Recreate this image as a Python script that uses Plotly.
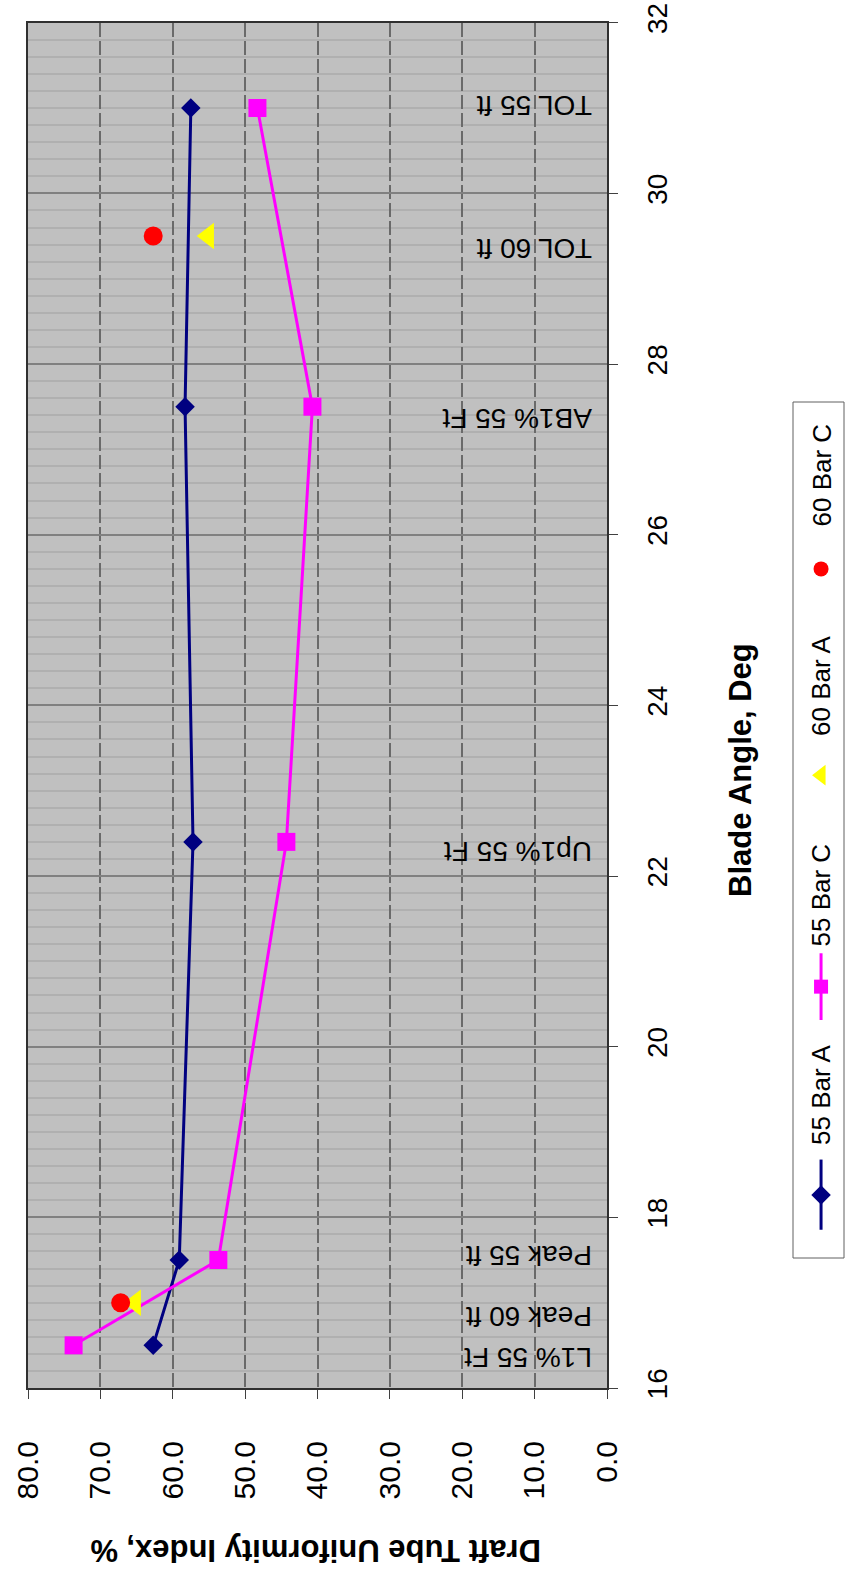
import plotly.graph_objects as go

# ---------------- data ----------------
blade_angle = [16.5, 17.5, 22.4, 27.5, 31.0]
bar55_A = [62.7, 59.1, 57.2, 58.3, 57.5]
bar55_C = [73.7, 53.7, 44.3, 40.7, 48.3]

angle60 = [17.0, 29.5]
bar60_A = [65.2, 55.1]
bar60_C = [67.2, 62.7]

point_labels = ["L1% 55 Ft", "Peak 60 ft", "Peak 55 ft", "Up1% 55 Ft",
                "AB1% 55 Ft", "TOL 60 ft", "TOL 55 ft"]
label_angles = [16.36, 16.84, 17.55, 22.28, 27.36, 29.36, 31.03]

uniformity_ticks = [0, 10, 20, 30, 40, 50, 60, 70, 80]
angle_ticks = [16, 18, 20, 22, 24, 26, 28, 30, 32]

series_names = ["55 Bar A", "55 Bar C", "60 Bar A", "60 Bar C"]

# ---------------- styling ----------------
W, H = 845, 1575
FONT = "Liberation Sans, Arial, sans-serif"
NAVY = "#000080"
MAG = "#FF00FF"
YEL = "#FFFF00"
RED = "#FF0000"

px_left, px_right, px_top, px_bottom = 28, 607, 22.7, 1388

fig = go.Figure()

fig.add_trace(go.Scatter(x=bar55_A, y=blade_angle, mode="lines+markers", name=series_names[0],
                         line=dict(color=NAVY, width=3),
                         marker=dict(symbol="diamond", size=15, color=NAVY)))
fig.add_trace(go.Scatter(x=bar55_C, y=blade_angle, mode="lines+markers", name=series_names[1],
                         line=dict(color=MAG, width=3),
                         marker=dict(symbol="square", size=18, color=MAG)))
fig.add_trace(go.Scatter(x=bar60_A, y=angle60, mode="markers", name=series_names[2],
                         marker=dict(symbol="triangle-left", size=23, color=YEL)))
fig.add_trace(go.Scatter(x=bar60_C, y=angle60, mode="markers", name=series_names[3],
                         marker=dict(symbol="circle", size=19, color=RED)))

# ---------------- legend (rotated, drawn on an overlay axis) ----------------
lg_x0, lg_x1, lg_y0, lg_y1 = 793, 844, 402, 1258
lx = 0.55
fig.add_trace(go.Scatter(x=[lx, lx], y=[0.033, 0.115], mode="lines", xaxis="x2", yaxis="y2",
                         line=dict(color=NAVY, width=3), showlegend=False, hoverinfo="skip"))
fig.add_trace(go.Scatter(x=[lx], y=[0.0736], mode="markers", xaxis="x2", yaxis="y2",
                         marker=dict(symbol="diamond", size=15, color=NAVY), showlegend=False, hoverinfo="skip"))
fig.add_trace(go.Scatter(x=[lx, lx], y=[0.278, 0.356], mode="lines", xaxis="x2", yaxis="y2",
                         line=dict(color=MAG, width=3), showlegend=False, hoverinfo="skip"))
fig.add_trace(go.Scatter(x=[lx], y=[0.317], mode="markers", xaxis="x2", yaxis="y2",
                         marker=dict(symbol="square", size=14, color=MAG), showlegend=False, hoverinfo="skip"))
fig.add_trace(go.Scatter(x=[lx], y=[0.564], mode="markers", xaxis="x2", yaxis="y2",
                         marker=dict(symbol="triangle-left", size=18, color=YEL), showlegend=False, hoverinfo="skip"))
fig.add_trace(go.Scatter(x=[lx], y=[0.805], mode="markers", xaxis="x2", yaxis="y2",
                         marker=dict(symbol="circle", size=15, color=RED), showlegend=False, hoverinfo="skip"))

legend_text_bottom = [1147, 949, 738, 529]
annotations = []
for name, yb in zip(series_names, legend_text_bottom):
    annotations.append(dict(text=name, xref="paper", yref="paper", x=821 / W, y=1 - yb / H,
                            xanchor="center", yanchor="bottom", textangle=-90, showarrow=False,
                            font=dict(family=FONT, size=26, color="black")))

# point labels (upside down)
for txt, ang in zip(point_labels, label_angles):
    annotations.append(dict(text=txt, x=1.8, y=ang, xref="x", yref="y", xanchor="right",
                            yanchor="middle", textangle=180, showarrow=False,
                            font=dict(family=FONT, size=28, color="black")))

# axis titles
annotations.append(dict(text="<b>Blade Angle, Deg</b>", xref="paper", yref="paper",
                        x=740 / W, y=1 - 770 / H, xanchor="center", yanchor="middle",
                        textangle=-90, showarrow=False, font=dict(family=FONT, size=31, color="black")))
annotations.append(dict(text="<b>Draft Tube Uniformity Index, %</b>", xref="paper", yref="paper",
                        x=316 / W, y=1 - 1551 / H, xanchor="center", yanchor="middle",
                        textangle=180, showarrow=False, font=dict(family=FONT, size=31, color="black")))

shapes = [
    # grey plot-area background (below grid)
    dict(type="rect", xref="x domain", yref="y domain", x0=0, x1=1, y0=0, y1=1,
         layer="below", line=dict(width=0), fillcolor="#C0C0C0"),
    # legend frame
    dict(type="rect", xref="paper", yref="paper",
         x0=lg_x0 / W, x1=lg_x1 / W, y0=1 - lg_y1 / H, y1=1 - lg_y0 / H,
         line=dict(color="#606060", width=1), fillcolor="rgba(0,0,0,0)"),
]

fig.update_layout(
    width=W, height=H,
    margin=dict(l=0, r=0, t=0, b=0, autoexpand=False),
    paper_bgcolor="white",
    plot_bgcolor="rgba(0,0,0,0)",
    showlegend=False,
    font=dict(family=FONT, color="black"),
    annotations=annotations,
    shapes=shapes,
    xaxis=dict(
        domain=[px_left / W, px_right / W], range=[80, 0], automargin=False,
        tickvals=uniformity_ticks, tickformat=".1f", tickangle=-90,
        tickfont=dict(family=FONT, size=30, color="black"),
        ticks="outside", ticklen=9, tickcolor="#404040", tickwidth=1,
        showgrid=True, gridcolor="#6A6A6A", gridwidth=1.5, griddash="14px,4px",
        showline=True, linecolor="#303030", linewidth=2, mirror=True,
        zeroline=False, anchor="y", ticklabelstandoff=30,
    ),
    yaxis=dict(
        domain=[1 - px_bottom / H, 1 - px_top / H], range=[16, 32], automargin=False,
        tickvals=angle_ticks, tickangle=-90, side="right",
        tickfont=dict(family=FONT, size=28, color="black"),
        ticks="outside", ticklen=9, tickcolor="#404040", tickwidth=1,
        showgrid=True, gridcolor="#808080", gridwidth=1.5,
        minor=dict(dtick=0.2, showgrid=True, gridcolor="#B0B0B0", gridwidth=2),
        showline=True, linecolor="#303030", linewidth=2, mirror=True,
        zeroline=False, anchor="x", ticklabelstandoff=15,
    ),
    xaxis2=dict(domain=[lg_x0 / W, lg_x1 / W], range=[0, 1], visible=False, anchor="y2",
                fixedrange=True, automargin=False),
    yaxis2=dict(domain=[1 - lg_y1 / H, 1 - lg_y0 / H], range=[0, 1], visible=False, anchor="x2",
                fixedrange=True, automargin=False),
)

fig.write_html("out.html", config={"displayModeBar": False},
               post_script="document.body.style.margin='0';document.body.style.padding='0';"
                           "document.body.style.overflow='hidden';")
